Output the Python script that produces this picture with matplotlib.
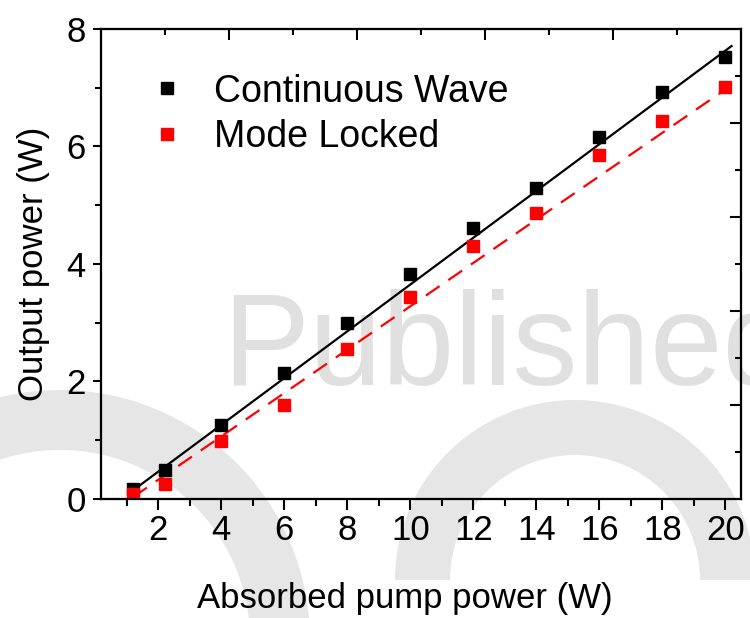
import numpy as np
import matplotlib
matplotlib.use("Agg")
import matplotlib.pyplot as plt
from matplotlib.patches import Wedge

plt.rcParams["font.family"] = ["Liberation Sans", "DejaVu Sans"]

# data
pump = [1.2, 2.2, 4, 6, 8, 10, 12, 14, 16, 18, 20]
cw_power = [0.17, 0.49, 1.26, 2.14, 3.00, 3.83, 4.61, 5.29, 6.16, 6.93, 7.52]
ml_power = [0.085, 0.26, 0.99, 1.60, 2.55, 3.44, 4.31, 4.87, 5.86, 6.43, 7.01]

# linear fits (slope, intercept) and their x ranges
cw_fit = [0.398, -0.33]
ml_fit = [0.369, -0.41]
cw_fit_x = [1.1, 20.2]
ml_fit_x = [1.2, 20.0]

series_labels = ["Continuous Wave", "Mode Locked"]
x_ticks = [2, 4, 6, 8, 10, 12, 14, 16, 18, 20]
y_ticks = [0, 2, 4, 6, 8]

fig = plt.figure(figsize=(7.5, 6.18), dpi=100)

# background watermark (pixel coords)
bg = fig.add_axes([0, 0, 1, 1], zorder=0)
bg.set_xlim(0, 750)
bg.set_ylim(618, 0)
bg.axis("off")
grey = "#e6e6e6"
bg.add_patch(Wedge((60, 640), 250, 180, 360, width=60, color=grey, lw=0))
bg.add_patch(Wedge((575, 580), 180, 180, 360, width=55, color=grey, lw=0))
bg.text(222, 385, "Published", fontsize=94, color="#e0e0e0", va="baseline", ha="left")

ax = fig.add_axes([0.1347, 0.1926, 0.8533, 0.7605], zorder=1)
ax.patch.set_alpha(0)

fx = np.array(cw_fit_x)
ax.plot(fx, np.polyval(cw_fit, fx), color="black", lw=1.6, zorder=2)
fx = np.array(ml_fit_x)
ax.plot(fx, np.polyval(ml_fit, fx), color="red", lw=1.6, dashes=(7.5, 4.8), zorder=2)

ax.plot(pump, cw_power, "s", color="black", ms=8, lw=0, label=series_labels[0], zorder=3)
ax.plot(pump, ml_power, "s", color="red", ms=8, lw=0, label=series_labels[1], zorder=3)

ax.set_xlim(0.18, 20.5)
ax.set_ylim(0, 8)
ax.set_xticks(x_ticks)
ax.set_xticks(np.arange(1, 21, 2), minor=True)
ax.set_yticks(y_ticks)
ax.set_yticks([1, 3, 5, 7], minor=True)
ax.tick_params(which="both", direction="out", width=1.5, labelsize=25, top=False, right=False)
ax.tick_params(axis="x", which="major", length=8, pad=3)
ax.tick_params(axis="x", which="minor", length=5)
ax.tick_params(axis="y", which="major", length=6, pad=5)
ax.tick_params(axis="y", which="minor", length=4)
for s in ax.spines.values():
    s.set_linewidth(1.5)

ax.set_xlabel("Absorbed pump power (W)", fontsize=25)
ax.set_ylabel("Output power (W)", fontsize=25)
ax.xaxis.set_label_coords(0.474, -0.176)
ax.yaxis.set_label_coords(-0.08, 0.5)

# mirrored top/right axes with their own 0-10 scale
top = ax.twiny()
top.set_xlim(0, 10)
top.set_xticks([2, 4, 6, 8])
top.set_xticks(np.arange(1, 10, 2), minor=True)
top.tick_params(which="both", direction="in", width=1.5, labeltop=False)
top.tick_params(which="major", length=8)
top.tick_params(which="minor", length=4)
right = ax.twinx()
right.set_ylim(0, 10)
right.set_yticks([2, 4, 6, 8])
right.set_yticks(np.arange(1, 10, 2), minor=True)
right.tick_params(which="both", direction="in", width=1.5, labelright=False)
right.tick_params(which="major", length=8)
right.tick_params(which="minor", length=4)
for a in (top, right):
    a.patch.set_alpha(0)
    for s in a.spines.values():
        s.set_linewidth(1.5)

ax.legend(loc="upper left", bbox_to_anchor=(0.05, 0.937), frameon=False, fontsize=27,
          numpoints=1, handlelength=1.0, handletextpad=0.77, labelspacing=0.25,
          borderaxespad=0)

fig.savefig("out.png", dpi=100)
